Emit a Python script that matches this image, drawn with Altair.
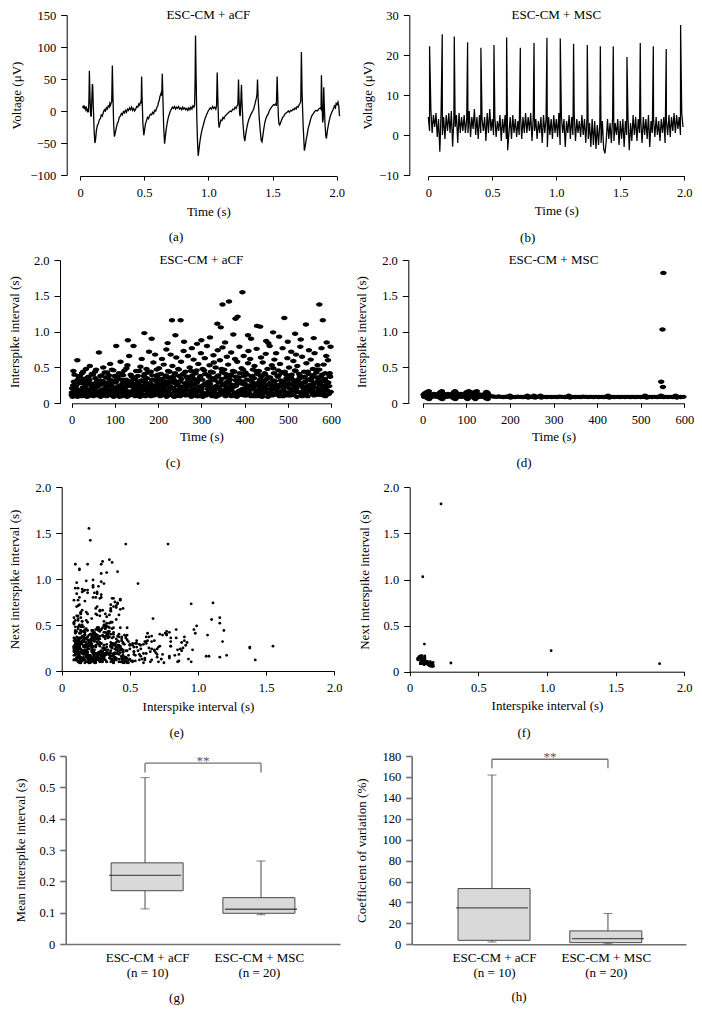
import altair as alt
import pandas as pd

W, H = 686, 1003
FONT = "Liberation Serif"
INK = "#000000"
GRAYAX = "#707070"
BOXFILL = "#d9d9d9"
BOXEDGE = "#4a4a4a"
ELLIPSE = "M-1,0A1,0.68,0,1,1,1,0A1,0.68,0,1,1,-1,0Z"
LABEL_SIZE = 12.5
TITLE_SIZE = 13

# ---------------- (a) ESC-CM + aCF voltage trace ----------------
a_time = [
    0.021, 0.026, 0.031, 0.036, 0.041, 0.046, 0.051, 0.057, 0.062, 0.066,
    0.070, 0.073, 0.078, 0.083, 0.087, 0.091, 0.096, 0.099, 0.104, 0.110,
    0.116, 0.121, 0.128, 0.136, 0.143, 0.150, 0.158, 0.166, 0.174, 0.182,
    0.190, 0.198, 0.205, 0.212, 0.220, 0.227, 0.233, 0.238, 0.243, 0.247,
    0.252, 0.256, 0.262, 0.268, 0.274, 0.282, 0.290, 0.298, 0.306, 0.314,
    0.322, 0.330, 0.338, 0.346, 0.354, 0.362, 0.370, 0.378, 0.386, 0.394,
    0.402, 0.410, 0.418, 0.426, 0.434, 0.442, 0.450, 0.458, 0.465, 0.472,
    0.477, 0.480, 0.484, 0.490, 0.497, 0.503, 0.510, 0.518, 0.526, 0.534,
    0.542, 0.550, 0.558, 0.566, 0.574, 0.582, 0.590, 0.598, 0.606, 0.612,
    0.617, 0.622, 0.627, 0.632, 0.637, 0.641, 0.646, 0.652, 0.659, 0.665,
    0.672, 0.680, 0.688, 0.696, 0.704, 0.712, 0.720, 0.728, 0.736, 0.744,
    0.752, 0.760, 0.768, 0.776, 0.784, 0.792, 0.800, 0.808, 0.816, 0.824,
    0.832, 0.840, 0.848, 0.856, 0.864, 0.872, 0.880, 0.888, 0.893, 0.897,
    0.900, 0.904, 0.910, 0.916, 0.921, 0.927, 0.934, 0.942, 0.950, 0.958,
    0.966, 0.974, 0.982, 0.990, 0.999, 1.008, 1.016, 1.025, 1.034, 1.042,
    1.051, 1.058, 1.064, 1.069, 1.074, 1.079, 1.084, 1.090, 1.098, 1.106,
    1.114, 1.122, 1.130, 1.141, 1.150, 1.160, 1.170, 1.180, 1.190, 1.200,
    1.208, 1.216, 1.224, 1.230, 1.235, 1.239, 1.244, 1.248, 1.253, 1.258,
    1.262, 1.270, 1.278, 1.284, 1.290, 1.298, 1.306, 1.314, 1.322, 1.330,
    1.338, 1.346, 1.354, 1.362, 1.368, 1.374, 1.379, 1.383, 1.388, 1.396,
    1.404, 1.412, 1.418, 1.425, 1.432, 1.440, 1.448, 1.456, 1.466, 1.474,
    1.482, 1.492, 1.500, 1.508, 1.516, 1.524, 1.530, 1.536, 1.541, 1.546,
    1.550, 1.556, 1.563, 1.571, 1.579, 1.588, 1.596, 1.605, 1.614, 1.623,
    1.632, 1.641, 1.650, 1.660, 1.668, 1.676, 1.684, 1.692, 1.700, 1.708,
    1.714, 1.720, 1.725, 1.730, 1.738, 1.744, 1.748, 1.755, 1.762, 1.769,
    1.777, 1.785, 1.793, 1.801, 1.810, 1.818, 1.828, 1.838, 1.848, 1.856,
    1.864, 1.872, 1.878, 1.881, 1.886, 1.891, 1.895, 1.899, 1.903, 1.910,
    1.916, 1.920, 1.928, 1.935, 1.942, 1.950, 1.958, 1.966, 1.974, 1.982,
    1.990, 1.996, 2.003, 2.010, 2.016, 2.022,
]
a_volt = [
    8, 4, 9, 3, 7, 2, 5, 0, 2, -2,
    20, 63, 20, -6, -9, 10, 42, 40, 5, -30,
    -50, -45, -30, -22, -20, -14, -12, -6, -8, -2,
    2, 0, 5, 3, 8, 6, 12, 9, 13, 14,
    71, 30, -20, -40, -35, -27, -20, -17, -10, -8,
    -4, -6, -1, -3, 1, -2, 3, 1, 5, 2,
    6, 1, 4, 0, 3, 7, 6, 11, 9, 14,
    12, 54, 20, -20, -38, -30, -20, -15, -10, -12,
    -7, -5, -6, -2, -4, 1, 0, 5, 8, 14,
    16, 22, 25, 28, 24, 58, 20, -25, -51, -40,
    -28, -18, -10, -5, 0, 3, 6, 4, 7, 3,
    6, 4, 7, 3, 5, 2, 6, 3, 5, 2,
    4, 1, 5, 2, 6, 3, 8, 6, 9, 50,
    118, 60, -10, -50, -70, -60, -48, -38, -30, -24,
    -18, -12, -8, -4, 0, 3, 5, 3, 7, 4,
    6, 3, 8, 60, 20, -15, -26, -20, -14, -15,
    -10, -12, -8, -6, -4, -2, 0, -1, 3, 2,
    6, 4, 8, 10, 49, 20, -5, -8, 15, 41,
    15, -20, -40, -47, -38, -28, -20, -14, -10, -6,
    -3, 0, 4, 10, 15, 20, 26, 49, 20, -10,
    -30, -46, -48, -38, -28, -18, -12, -8, -5, 0,
    3, 6, 8, 10, 9, 11, 8, 54, 20, -10,
    -20, -22, -18, -14, -10, -8, -5, -3, -2, 0,
    -2, 1, 0, 3, 2, 5, 3, 7, 6, 10,
    12, 15, 92, 30, -20, -45, -62, -55, -45, -38,
    -28, -22, -16, -10, -6, -4, -1, 1, 0, 2,
    4, 5, 3, 56, 10, -18, -12, 37, 10, -25,
    -40, -43, -30, -22, -15, -8, -4, 0, 3, 8,
    5, 12, 10, 14, 8, -8,
]

# ---------------- (b) ESC-CM + MSC voltage trace ----------------
b_dt = 0.01  # sampling step of the noise record (s)
b_noise = [
    4.5, 1.0, 6.5, 0.5, 5.0, 2.0, 5.5, -0.5, 4.0, -4.2,
    6.0, 0.0, 4.5, -1.0, 5.0, 1.0, 5.5, 0.5, 6.0, -2.9,
    4.5, 2.0, 5.0, -2.0, 5.5, 0.5, 4.5, 1.0, 5.0, 0.5,
    4.0, 0.5, 6.0, -0.5, 4.5, 1.5, 6.5, 0.0, 4.5, -1.0,
    5.0, 0.5, 4.0, 1.0, 4.5, -1.5, 5.5, 0.5, 6.5, 1.0,
    4.0, 0.0, 4.5, -0.5, 3.5, 1.0, 5.0, -1.5, 4.0, 0.5,
    5.0, -1.0, -3.8, 0.5, 4.5, -1.0, 5.0, 0.5, 4.0, -0.5,
    3.5, 0.0, 5.0, -1.0, 4.5, 0.5, 5.5, 0.5, 4.5, 1.0,
    5.5, -1.5, 4.5, 1.0, 4.0, -1.0, 3.5, 0.5, 4.5, -2.0,
    5.0, 0.5, 4.0, -3.0, 4.5, 0.0, 4.0, -1.0, 5.0, 0.5,
    4.0, -0.5, 5.5, -2.5, 4.5, 0.5, 4.0, -3.0, 3.5, 0.5,
    5.0, -1.0, 4.5, 0.0, 5.0, -1.5, 4.0, 0.5, 3.5, -0.5,
    5.0, 0.0, 4.0, -2.0, 4.5, -1.0, 3.0, -3.0, 4.0, -2.5,
    3.5, -3.5, 2.5, -2.5, 3.0, -2.0, 3.5, -3.5, -4.6, -1.5,
    4.0, -1.0, 3.0, -2.0, 4.5, -1.5, 3.0, 0.0, 4.0, -2.5,
    3.5, -1.0, 4.0, -3.0, 3.5, 0.0, 4.5, -3.8, 3.0, -1.5,
    5.0, 0.0, 4.5, -1.5, 4.0, 0.5, 3.5, -2.0, 4.5, 0.0,
    4.0, -1.0, 5.0, -3.0, 3.5, 0.5, 4.0, -0.5, 4.5, 0.0,
    3.5, -1.5, 4.0, 0.5, 4.5, -2.0, 3.5, 0.0, 5.0, -0.5,
    4.5, 1.0, 5.5, 0.5, 5.0, 1.5, 4.5, 0.0, 5.5, 2.0,
]
b_spike_time = [0.010, 0.109, 0.203, 0.307, 0.411, 0.513, 0.612, 0.719, 0.826, 0.927,
                1.031, 1.135, 1.242, 1.344, 1.445, 1.552, 1.656, 1.758, 1.859, 1.971]
b_spike_peak = [22.2, 25.2, 24.6, 23.2, 21.8, 22.5, 24.4, 21.8, 23.0, 24.3,
                24.1, 22.8, 22.5, 22.2, 22.2, 19.5, 23.0, 22.2, 21.5, 27.5]

# ---------------- (c)/(e) ESC-CM + aCF interspike intervals ----------------
aCF_time = [
    0, 1, 2, 4, 5, 6, 8, 9,
    10, 11, 13, 14, 15, 17, 18, 19,
    20, 22, 23, 24, 26, 27, 28, 29,
    31, 32, 33, 35, 36, 37, 38, 39,
    40, 41, 42, 44, 45, 46, 48, 49,
    50, 51, 53, 54, 55, 57, 58, 59,
    60, 62, 63, 64, 66, 67, 68, 69,
    71, 72, 73, 75, 76, 77, 78, 79,
    80, 81, 82, 84, 85, 86, 88, 89,
    90, 91, 93, 94, 95, 97, 98, 99,
    100, 102, 103, 104, 106, 107, 108, 109,
    111, 112, 113, 115, 116, 117, 118, 119,
    120, 121, 122, 124, 125, 126, 128, 129,
    130, 131, 133, 134, 135, 137, 138, 139,
    140, 142, 143, 144, 146, 147, 148, 149,
    151, 152, 153, 155, 156, 157, 158, 159,
    160, 161, 162, 164, 165, 166, 168, 169,
    170, 171, 173, 174, 175, 177, 178, 179,
    180, 182, 183, 184, 186, 187, 188, 189,
    191, 192, 193, 195, 196, 197, 198, 199,
    200, 201, 202, 204, 205, 206, 208, 209,
    210, 211, 213, 214, 215, 217, 218, 219,
    220, 222, 223, 224, 226, 227, 228, 229,
    231, 232, 233, 235, 236, 237, 238, 239,
    240, 241, 242, 244, 245, 246, 248, 249,
    250, 251, 253, 254, 255, 257, 258, 259,
    260, 262, 263, 264, 266, 267, 268, 269,
    271, 272, 273, 275, 276, 277, 278, 279,
    280, 281, 282, 284, 285, 286, 288, 289,
    290, 291, 293, 294, 295, 297, 298, 299,
    300, 302, 303, 304, 306, 307, 308, 309,
    311, 312, 313, 315, 316, 317, 318, 319,
    320, 321, 322, 324, 325, 326, 328, 329,
    330, 331, 333, 334, 335, 337, 338, 339,
    340, 342, 343, 344, 346, 347, 348, 349,
    351, 352, 353, 355, 356, 357, 358, 359,
    360, 361, 362, 364, 365, 366, 368, 369,
    370, 371, 373, 374, 375, 377, 378, 379,
    380, 382, 383, 384, 386, 387, 388, 389,
    391, 392, 393, 395, 396, 397, 398, 399,
    400, 401, 402, 404, 405, 406, 408, 409,
    410, 411, 413, 414, 415, 417, 418, 419,
    420, 422, 423, 424, 426, 427, 428, 429,
    431, 432, 433, 435, 436, 437, 438, 439,
    440, 441, 442, 444, 445, 446, 448, 449,
    450, 451, 453, 454, 455, 457, 458, 459,
    460, 462, 463, 464, 466, 467, 468, 469,
    471, 472, 473, 475, 476, 477, 478, 479,
    480, 481, 482, 484, 485, 486, 488, 489,
    490, 491, 493, 494, 495, 497, 498, 499,
    500, 502, 503, 504, 506, 507, 508, 509,
    511, 512, 513, 515, 516, 517, 518, 519,
    520, 521, 522, 524, 525, 526, 528, 529,
    530, 531, 533, 534, 535, 537, 538, 539,
    540, 542, 543, 544, 546, 547, 548, 549,
    551, 552, 553, 555, 556, 557, 558, 559,
    560, 561, 562, 564, 565, 566, 568, 569,
    570, 571, 573, 574, 575, 577, 578, 579,
    580, 582, 583, 584, 586, 587, 588, 589,
    591, 592, 593, 595, 596, 597, 598, 599,
]
aCF_isi = [
    0.12, 0.21, 0.09, 0.45, 0.30, 0.17, 0.26, 0.14,
    0.24, 0.11, 0.60, 0.33, 0.19, 0.13, 0.28, 0.38,
    0.16, 0.29, 0.10, 0.42, 0.22, 0.13, 0.34, 0.19,
    0.27, 0.12, 0.48, 0.20, 0.09, 0.31, 0.15, 0.37,
    0.18, 0.33, 0.52, 0.11, 0.25, 0.14, 0.22, 0.40,
    0.10, 0.27, 0.19, 0.44, 0.35, 0.13, 0.30, 0.16,
    0.23, 0.12, 0.71, 0.17, 0.32, 0.09, 0.26, 0.39,
    0.15, 0.31, 0.50, 0.20, 0.11, 0.27, 0.13, 0.36,
    0.28, 0.10, 0.43, 0.24, 0.16, 0.34, 0.12, 0.55,
    0.19, 0.26, 0.47, 0.13, 0.32, 0.09, 0.22, 0.38,
    0.12, 0.29, 0.80, 0.18, 0.35, 0.11, 0.24, 0.42,
    0.21, 0.14, 0.58, 0.33, 0.10, 0.27, 0.17, 0.39,
    0.30, 0.12, 0.46, 0.22, 0.15, 0.33, 0.09, 0.53,
    0.17, 0.28, 0.66, 0.11, 0.24, 0.14, 0.31, 0.37,
    0.13, 0.23, 0.80, 0.19, 0.34, 0.10, 0.27, 0.45,
    0.26, 0.16, 0.38, 0.12, 0.29, 0.20, 0.09, 0.51,
    0.14, 0.32, 0.62, 0.21, 0.11, 0.25, 0.18, 0.41,
    0.29, 0.10, 0.48, 0.35, 0.17, 0.23, 0.13, 0.72,
    0.20, 0.27, 0.44, 0.12, 0.33, 0.15, 0.22, 0.57,
    0.11, 0.25, 0.68, 0.18, 0.30, 0.14, 0.36, 0.40,
    0.23, 0.13, 0.49, 0.28, 0.10, 0.34, 0.19, 0.62,
    0.16, 0.31, 0.54, 0.22, 0.12, 0.26, 0.39, 0.75,
    0.27, 0.11, 0.45, 0.19, 0.14, 0.24, 0.36, 0.68,
    0.13, 0.29, 0.52, 0.21, 0.33, 0.09, 0.17, 0.42,
    0.31, 0.18, 0.64, 0.12, 0.26, 0.15, 0.47, 0.38,
    0.20, 0.10, 0.58, 0.34, 0.23, 0.13, 0.41, 0.73,
    0.15, 0.28, 0.44, 0.11, 0.19, 0.25, 0.36, 0.66,
    0.24, 0.13, 0.50, 0.30, 0.17, 0.09, 0.77, 0.39,
    0.12, 0.35, 0.61, 0.21, 0.27, 0.14, 0.32, 0.46,
    0.29, 0.18, 0.55, 0.10, 0.23, 0.16, 0.38, 0.70,
    0.19, 0.33, 0.48, 0.12, 0.26, 0.14, 0.63, 0.41,
    0.11, 0.25, 0.80, 0.20, 0.30, 0.15, 0.37, 0.53,
    0.27, 0.14, 0.44, 0.22, 0.10, 0.35, 0.67, 0.57,
    0.17, 0.32, 0.50, 0.09, 0.24, 0.13, 0.74, 0.39,
    0.22, 0.12, 0.60, 0.29, 0.16, 0.34, 0.43, 0.78,
    0.13, 0.27, 0.47, 0.19, 0.10, 0.25, 0.36, 0.65,
    0.30, 0.15, 0.54, 0.21, 0.12, 0.33, 0.40, 0.71,
    0.18, 0.26, 0.45, 0.11, 0.23, 0.14, 0.62, 0.37,
    0.24, 0.09, 0.58, 0.35, 0.17, 0.28, 0.79, 0.42,
    0.12, 0.31, 0.49, 0.20, 0.27, 0.15, 0.66, 0.38,
    0.28, 0.16, 0.43, 0.11, 0.33, 0.21, 0.56, 0.73,
    0.14, 0.25, 0.62, 0.19, 0.10, 0.30, 0.38, 0.47,
    0.22, 0.35, 0.52, 0.13, 0.27, 0.17, 0.76, 0.41,
    0.10, 0.29, 0.45, 0.20, 0.33, 0.14, 0.64, 0.37,
    0.25, 0.12, 0.57, 0.18, 0.31, 0.23, 0.40, 0.69,
    0.16, 0.34, 0.48, 0.09, 0.26, 0.13, 0.80, 0.36,
    0.29, 0.19, 0.53, 0.11, 0.23, 0.32, 0.42, 0.61,
    0.13, 0.26, 0.70, 0.21, 0.15, 0.37, 0.46, 0.39,
    0.23, 0.10, 0.55, 0.32, 0.17, 0.28, 0.77, 0.43,
    0.18, 0.30, 0.44, 0.12, 0.25, 0.35, 0.14, 0.63,
    0.26, 0.15, 0.50, 0.21, 0.11, 0.36, 0.72, 0.40,
    0.12, 0.33, 0.59, 0.24, 0.18, 0.29, 0.45, 0.68,
    0.21, 0.09, 0.52, 0.16, 0.27, 0.34, 0.38, 0.79,
    0.15, 0.28, 0.65, 0.12, 0.22, 0.19, 0.44, 0.37,
    0.30, 0.13, 0.56, 0.24, 0.10, 0.33, 0.41, 0.74,
    0.17, 0.26, 0.61, 0.35, 0.20, 0.14, 0.48, 0.39,
    0.23, 0.11, 0.70, 0.29, 0.16, 0.43, 0.36, 0.53,
    0.14, 0.32, 0.47, 0.19, 0.27, 0.12, 0.77, 0.40,
    0.25, 0.15, 0.54, 0.21, 0.34, 0.10, 0.30, 0.66,
    0.18, 0.28, 0.60, 0.13, 0.24, 0.42, 0.37, 0.79,
]
aCF_time2 = [
    0.5, 3.5, 6.5, 9.5, 10.5, 13.5, 16.5, 19.5, 20.5, 23.5, 26.5, 29.5,
    30.5, 33.5, 36.5, 39.5, 40.5, 43.5, 46.5, 49.5, 50.5, 53.5, 56.5, 59.5,
    60.5, 63.5, 66.5, 69.5, 70.5, 73.5, 76.5, 79.5, 80.5, 83.5, 86.5, 89.5,
    90.5, 93.5, 96.5, 99.5, 100.5, 103.5, 106.5, 109.5, 110.5, 113.5, 116.5, 119.5,
    120.5, 123.5, 126.5, 129.5, 130.5, 133.5, 136.5, 139.5, 140.5, 143.5, 146.5, 149.5,
    150.5, 153.5, 156.5, 159.5, 160.5, 163.5, 166.5, 169.5, 170.5, 173.5, 176.5, 179.5,
    180.5, 183.5, 186.5, 189.5, 190.5, 193.5, 196.5, 199.5, 200.5, 203.5, 206.5, 209.5,
    210.5, 213.5, 216.5, 219.5, 220.5, 223.5, 226.5, 229.5, 230.5, 233.5, 236.5, 239.5,
    240.5, 243.5, 246.5, 249.5, 250.5, 253.5, 256.5, 259.5, 260.5, 263.5, 266.5, 269.5,
    270.5, 273.5, 276.5, 279.5, 280.5, 283.5, 286.5, 289.5, 290.5, 293.5, 296.5, 299.5,
    300.5, 303.5, 306.5, 309.5, 310.5, 313.5, 316.5, 319.5, 320.5, 323.5, 326.5, 329.5,
    330.5, 333.5, 336.5, 339.5, 340.5, 343.5, 346.5, 349.5, 350.5, 353.5, 356.5, 359.5,
    360.5, 363.5, 366.5, 369.5, 370.5, 373.5, 376.5, 379.5, 380.5, 383.5, 386.5, 389.5,
    390.5, 393.5, 396.5, 399.5, 400.5, 403.5, 406.5, 409.5, 410.5, 413.5, 416.5, 419.5,
    420.5, 423.5, 426.5, 429.5, 430.5, 433.5, 436.5, 439.5, 440.5, 443.5, 446.5, 449.5,
    450.5, 453.5, 456.5, 459.5, 460.5, 463.5, 466.5, 469.5, 470.5, 473.5, 476.5, 479.5,
    480.5, 483.5, 486.5, 489.5, 490.5, 493.5, 496.5, 499.5, 500.5, 503.5, 506.5, 509.5,
    510.5, 513.5, 516.5, 519.5, 520.5, 523.5, 526.5, 529.5, 530.5, 533.5, 536.5, 539.5,
    540.5, 543.5, 546.5, 549.5, 550.5, 553.5, 556.5, 559.5, 560.5, 563.5, 566.5, 569.5,
    570.5, 573.5, 576.5, 579.5, 580.5, 583.5, 586.5, 589.5, 590.5, 593.5, 596.5, 599.5,
]
aCF_isi2 = [
    0.15, 0.25, 0.40, 0.11, 0.20, 0.09, 0.37, 0.29, 0.13, 0.31, 0.44, 0.18,
    0.23, 0.10, 0.36, 0.27, 0.16, 0.28, 0.41, 0.12, 0.21, 0.14, 0.47, 0.32,
    0.11, 0.26, 0.38, 0.19, 0.29, 0.13, 0.43, 0.22, 0.14, 0.20, 0.39, 0.30,
    0.25, 0.11, 0.46, 0.17, 0.18, 0.32, 0.37, 0.13, 0.09, 0.24, 0.42, 0.28,
    0.20, 0.15, 0.49, 0.26, 0.31, 0.12, 0.40, 0.16, 0.17, 0.27, 0.36, 0.21,
    0.13, 0.30, 0.45, 0.11, 0.24, 0.19, 0.38, 0.33, 0.12, 0.22, 0.43, 0.27,
    0.28, 0.10, 0.39, 0.18, 0.15, 0.33, 0.47, 0.23, 0.19, 0.12, 0.41, 0.30,
    0.26, 0.17, 0.36, 0.09, 0.14, 0.31, 0.44, 0.22, 0.21, 0.11, 0.38, 0.28,
    0.10, 0.25, 0.48, 0.19, 0.30, 0.16, 0.40, 0.13, 0.18, 0.23, 0.37, 0.32,
    0.12, 0.29, 0.45, 0.20, 0.26, 0.14, 0.42, 0.10, 0.17, 0.33, 0.36, 0.24,
    0.22, 0.09, 0.46, 0.28, 0.13, 0.27, 0.39, 0.18, 0.31, 0.16, 0.43, 0.12,
    0.20, 0.24, 0.37, 0.29, 0.11, 0.19, 0.48, 0.25, 0.27, 0.13, 0.41, 0.21,
    0.16, 0.30, 0.38, 0.10, 0.23, 0.12, 0.44, 0.32, 0.14, 0.28, 0.36, 0.18,
    0.29, 0.17, 0.47, 0.11, 0.19, 0.25, 0.40, 0.13, 0.12, 0.32, 0.37, 0.22,
    0.26, 0.10, 0.45, 0.16, 0.18, 0.23, 0.39, 0.30, 0.09, 0.29, 0.42, 0.20,
    0.24, 0.14, 0.36, 0.27, 0.15, 0.21, 0.49, 0.12, 0.31, 0.18, 0.38, 0.24,
    0.13, 0.26, 0.43, 0.10, 0.22, 0.16, 0.40, 0.33, 0.11, 0.28, 0.37, 0.19,
    0.27, 0.13, 0.46, 0.23, 0.17, 0.30, 0.41, 0.14, 0.25, 0.10, 0.36, 0.29,
    0.14, 0.22, 0.44, 0.18, 0.20, 0.32, 0.39, 0.12, 0.28, 0.15, 0.47, 0.21,
    0.12, 0.26, 0.37, 0.31, 0.19, 0.11, 0.42, 0.24, 0.23, 0.29, 0.38, 0.16,
]
aCF_high_time = [130, 168, 185, 222, 232, 240, 252, 260, 290, 300,
                 320, 337, 345, 349, 355, 364, 374, 379, 384, 395,
                 408, 415, 429, 436, 450, 455, 466, 480, 492, 500,
                 517, 530, 542, 560, 573, 581, 590]
aCF_high_isi = [0.88, 0.98, 0.90, 0.84, 1.16, 0.95, 1.16, 0.86, 0.83, 0.88,
                0.92, 1.11, 1.06, 1.38, 0.85, 1.42, 0.96, 1.18, 1.21, 1.55,
                0.95, 0.90, 1.08, 1.07, 0.87, 0.84, 0.99, 0.93, 1.19, 0.86,
                0.97, 0.89, 1.10, 0.91, 1.38, 1.16, 0.85]

# ---------------- (d)/(f) ESC-CM + MSC interspike intervals ----------------
MSC_time = [
    2, 3, 5, 6, 8, 9, 10, 11, 12, 13,
    14, 15, 16, 18, 20, 22, 24, 26, 28, 30,
    32, 34, 36, 38, 40, 41, 42, 43, 44, 45,
    46, 47, 48, 50, 52, 54, 56, 58, 60, 62,
    64, 66, 68, 70, 71, 72, 73, 74, 75, 76,
    77, 78, 80, 82, 84, 86, 88, 90, 92, 94,
    96, 98, 100, 101, 102, 103, 104, 105, 106, 107,
    108, 110, 112, 114, 116, 118, 119, 120, 121, 122,
    123, 124, 125, 126, 128, 130, 132, 134, 136, 138,
    140, 142, 144, 145, 146, 147, 148, 149, 150, 152,
    156, 162, 168, 174, 180, 186, 192, 198, 200, 202,
    206, 212, 218, 224, 230, 236, 240, 242, 246, 252,
    255, 258, 262, 268, 270, 272, 278, 284, 290, 296,
    302, 308, 314, 320, 326, 332, 335, 338, 344, 350,
    356, 362, 368, 374, 380, 386, 392, 398, 404, 410,
    416, 422, 425, 428, 434, 440, 446, 452, 458, 464,
    470, 476, 482, 488, 494, 500, 506, 510, 514, 520,
    526, 532, 538, 544, 546, 547, 548, 549, 550, 551,
    552, 553, 556, 562, 568, 574, 580, 583, 586, 592,
    598,
]
MSC_isi = [
    0.12, 0.09, 0.14, 0.10, 0.13, 0.08, 0.16, 0.07, 0.15, 0.11,
    0.17, 0.06, 0.13, 0.10, 0.12, 0.09, 0.11, 0.13, 0.10, 0.12,
    0.09, 0.11, 0.13, 0.10, 0.15, 0.07, 0.16, 0.09, 0.17, 0.06,
    0.14, 0.08, 0.12, 0.11, 0.10, 0.12, 0.09, 0.13, 0.11, 0.10,
    0.12, 0.09, 0.11, 0.14, 0.07, 0.16, 0.08, 0.17, 0.06, 0.15,
    0.10, 0.13, 0.11, 0.09, 0.12, 0.10, 0.13, 0.09, 0.11, 0.12,
    0.10, 0.11, 0.15, 0.07, 0.16, 0.06, 0.14, 0.09, 0.17, 0.08,
    0.12, 0.10, 0.13, 0.09, 0.11, 0.15, 0.07, 0.16, 0.06, 0.14,
    0.08, 0.17, 0.10, 0.13, 0.11, 0.09, 0.12, 0.10, 0.11, 0.09,
    0.12, 0.10, 0.14, 0.07, 0.16, 0.08, 0.15, 0.06, 0.13, 0.10,
    0.10, 0.095, 0.09, 0.095, 0.09, 0.088, 0.092, 0.09, 0.105, 0.08,
    0.09, 0.088, 0.092, 0.09, 0.087, 0.09, 0.105, 0.08, 0.09, 0.088,
    0.105, 0.08, 0.09, 0.092, 0.105, 0.08, 0.09, 0.088, 0.09, 0.087,
    0.09, 0.088, 0.092, 0.09, 0.088, 0.09, 0.105, 0.08, 0.09, 0.087,
    0.09, 0.088, 0.092, 0.09, 0.087, 0.09, 0.088, 0.09, 0.087, 0.09,
    0.088, 0.09, 0.105, 0.08, 0.09, 0.088, 0.09, 0.087, 0.09, 0.088,
    0.09, 0.087, 0.09, 0.088, 0.09, 0.087, 0.09, 0.105, 0.08, 0.09,
    0.088, 0.09, 0.087, 0.09, 0.107, 0.30, 0.094, 0.095, 1.03, 0.228,
    1.82, 0.087, 0.09, 0.088, 0.09, 0.087, 0.105, 0.08, 0.09, 0.088,
    0.09,
]

# ---------------- (g)/(h) box plot summaries ----------------
box_groups = ["ESC-CM + aCF", "ESC-CM + MSC"]
box_n = [10, 20]
box_pos = [1, 2]
g_min = [0.112, 0.093]
g_q1 = [0.170, 0.098]
g_med = [0.219, 0.111]
g_q3 = [0.259, 0.148]
g_max = [0.531, 0.265]
g_bracket = [0.547, 0.577]
h_min = [2.2, 0.6]
h_q1 = [3.8, 1.6]
h_med = [34.8, 5.4]
h_q3 = [53.3, 12.8]
h_max = [161.8, 29.4]
h_bracket = [168.2, 176.9]


# ======================= helpers =======================
def lin(domain, rng):
    return alt.Scale(domain=domain, range=rng, nice=False, zero=False)


def dec_expr(d):
    return f"datum.value == 0 ? '0' : format(datum.value, '.{d}f')"


def y_axis(at, values, title, gap, dec=None, color=INK, width=1.0):
    kw = dict(orient="left", offset=-at, values=values, title=title, grid=False,
              tickSize=6, labelPadding=5, minExtent=30, maxExtent=30,
              titlePadding=gap - 30, domainColor=color, tickColor=color,
              domainWidth=width, tickWidth=width, labelFlush=False,
              labelOverlap=False)
    if dec is not None:
        kw["labelExpr"] = dec_expr(dec)
    return alt.Axis(**kw)


def x_axis(at, values, title, gap, dec=None):
    kw = dict(orient="bottom", offset=at - H, values=values, title=title, grid=False,
              tickSize=4, labelPadding=6, minExtent=20, maxExtent=20,
              titlePadding=gap - 20, domainColor=INK, tickColor=INK,
              labelFlush=False, labelOverlap=False)
    if dec is not None:
        kw["labelExpr"] = dec_expr(dec)
    return alt.Axis(**kw)


def caption(text, px, py):
    return alt.Chart(pd.DataFrame({"c": [text]})).mark_text(
        font=FONT, fontSize=TITLE_SIZE, align="center", baseline="middle", color=INK
    ).encode(text="c:N", x=alt.value(px), y=alt.value(py))


def panel_title(text, xs, ys, xdom, ydom):
    df = pd.DataFrame({"x": [(xdom[0] + xdom[1]) / 2], "y": [ydom[1]], "label": [text]})
    return alt.Chart(df).mark_text(
        font=FONT, fontSize=TITLE_SIZE, baseline="middle", align="center", color=INK
    ).encode(x=alt.X("x:Q", scale=xs, axis=None),
             y=alt.Y("y:Q", scale=ys, axis=None), text="label:N")


layers = []

# ---------------- panel (a) ----------------
xa_dom, ya_dom = [0, 2], [-100, 150]
xa, ya = lin(xa_dom, [72, 328.7]), lin(ya_dom, [167, 7])
df_a = pd.DataFrame({"t": a_time, "v": a_volt})
layers += [
    alt.Chart(df_a).mark_line(color=INK, strokeWidth=1.3).encode(
        x=alt.X("t:Q", scale=xa, axis=x_axis(168, [0, 0.5, 1, 1.5, 2], "Time (s)", 29.5, 1)),
        y=alt.Y("v:Q", scale=ya, axis=y_axis(58.7, [-100, -50, 0, 50, 100, 150], "Voltage (μV)", 43)),
    ),
    panel_title("ESC-CM + aCF", xa, ya, xa_dom, ya_dom),
    caption("(a)", 168, 229),
]

# ---------------- panel (b) ----------------
xb_dom, yb_dom = [0, 2], [-10, 30]
xb, yb = lin(xb_dom, [420.3, 676.3]), lin(yb_dom, [167, 7])
b_t = [round(i * b_dt, 3) for i in range(len(b_noise))] + b_spike_time
b_v = b_noise + b_spike_peak
df_b = pd.DataFrame({"t": b_t, "v": b_v}).sort_values("t", kind="stable")
layers += [
    alt.Chart(df_b).mark_line(color=INK, strokeWidth=1.25).encode(
        x=alt.X("t:Q", scale=xb, axis=x_axis(168, [0, 0.5, 1, 1.5, 2], "Time (s)", 28.5, 1)),
        y=alt.Y("v:Q", scale=yb, axis=y_axis(401.3, [-10, 0, 10, 20, 30], "Voltage (μV)", 35)),
    ),
    panel_title("ESC-CM + MSC", xb, yb, xb_dom, yb_dom),
    caption("(b)", 519.7, 230),
]

# ---------------- panel (c) ----------------
aCF = pd.DataFrame({"t": aCF_time + aCF_time2 + aCF_high_time,
                    "isi": aCF_isi + aCF_isi2 + aCF_high_isi})
aCF = aCF.sort_values("t", kind="stable").reset_index(drop=True)
xc_dom, yc_dom = [0, 600], [0, 2]
xc, yc = lin(xc_dom, [63.7, 323]), lin(yc_dom, [395.3, 252])
layers += [
    alt.Chart(aCF).mark_point(filled=True, shape=ELLIPSE, size=42, color=INK, opacity=1).encode(
        x=alt.X("t:Q", scale=xc, axis=x_axis(395.3, [0, 100, 200, 300, 400, 500, 600], "Time (s)", 27.5)),
        y=alt.Y("isi:Q", scale=yc, axis=y_axis(52, [0, 0.5, 1, 1.5, 2], "Interspike interval (s)", 39, 1)),
    ),
    panel_title("ESC-CM + aCF", xc, yc, xc_dom, yc_dom),
    caption("(c)", 165, 455),
]

# ---------------- panel (d) ----------------
MSC = pd.DataFrame({"t": MSC_time, "isi": MSC_isi}).sort_values("t", kind="stable").reset_index(drop=True)
xd_dom, yd_dom = [0, 600], [0, 2]
xd, yd = lin(xd_dom, [414.7, 676.3]), lin(yd_dom, [395.3, 252])
layers += [
    alt.Chart(MSC).mark_point(filled=True, shape=ELLIPSE, size=42, color=INK, opacity=1).encode(
        x=alt.X("t:Q", scale=xd, axis=x_axis(395.3, [0, 100, 200, 300, 400, 500, 600], "Time (s)", 27.5)),
        y=alt.Y("isi:Q", scale=yd, axis=y_axis(400.3, [0, 0.5, 1, 1.5, 2], "Interspike interval (s)", 40, 1)),
    ),
    panel_title("ESC-CM + MSC", xd, yd, xd_dom, yd_dom),
    caption("(d)", 516, 455),
]

# ---------------- panel (e): return map of (c) ----------------
e_pairs = pd.DataFrame({"x": aCF["isi"].values[:-1], "y": aCF["isi"].values[1:]})
xe, ye = lin([0, 2], [53.7, 326.3]), lin([0, 2], [663, 479])
layers += [
    alt.Chart(e_pairs).mark_circle(size=8, color=INK, opacity=1).encode(
        x=alt.X("x:Q", scale=xe, axis=x_axis(663, [0, 0.5, 1, 1.5, 2], "Interspike interval (s)", 29, 1)),
        y=alt.Y("y:Q", scale=ye, axis=y_axis(53.7, [0, 0.5, 1, 1.5, 2], "Next interspike interval (s)", 40, 1)),
    ),
    caption("(e)", 168.7, 725),
]

# ---------------- panel (f): return map of (d) ----------------
f_pairs = pd.DataFrame({"x": MSC["isi"].values[:-1], "y": MSC["isi"].values[1:]})
xf, yf = lin([0, 2], [401.7, 676.3]), lin([0, 2], [663.7, 479.3])
layers += [
    alt.Chart(f_pairs).mark_circle(size=8, color=INK, opacity=1).encode(
        x=alt.X("x:Q", scale=xf, axis=x_axis(663.7, [0, 0.5, 1, 1.5, 2], "Interspike interval (s)", 28, 1)),
        y=alt.Y("y:Q", scale=yf, axis=y_axis(401.7, [0, 0.5, 1, 1.5, 2], "Next interspike interval (s)", 38, 1)),
    ),
    caption("(f)", 516, 725),
]

# ---------------- box panels (g)/(h) ----------------
cat_expr = (f"datum.value == {box_pos[0]} ? ['{box_groups[0]}', '(n = {box_n[0]})'] : "
            f"['{box_groups[1]}', '(n = {box_n[1]})']")


def box_layers(mins, q1s, meds, q3s, maxs, bracket, xs, ys, xat, yat, yvals, ytitle, ygap, dec):
    df = pd.DataFrame({"pos": box_pos, "min": mins, "q1": q1s, "med": meds, "q3": q3s, "max": maxs})
    xax = alt.Axis(orient="bottom", offset=xat - H, values=box_pos, labelExpr=cat_expr,
                   ticks=False, tickSize=0, labelPadding=7.5, labelLineHeight=15,
                   labelFontSize=TITLE_SIZE,
                   domainColor=GRAYAX, domainWidth=1.6, title=None, grid=False,
                   labelFlush=False, labelOverlap=False)
    yax = y_axis(yat, yvals, ytitle, ygap, dec, color=GRAYAX, width=1.6)
    whisk = alt.Chart(df).mark_rule(color=BOXEDGE, strokeWidth=1).encode(
        x=alt.X("pos:Q", scale=xs, axis=None), y=alt.Y("min:Q", scale=ys, axis=None), y2="max:Q")
    cap_hi = alt.Chart(df).mark_tick(orient="horizontal", size=9, thickness=1, color=BOXEDGE).encode(
        x=alt.X("pos:Q", scale=xs, axis=None), y=alt.Y("max:Q", scale=ys, axis=None))
    cap_lo = alt.Chart(df).mark_tick(orient="horizontal", size=9, thickness=1, color=BOXEDGE).encode(
        x=alt.X("pos:Q", scale=xs, axis=None), y=alt.Y("min:Q", scale=ys, axis=None))
    box = alt.Chart(df).mark_bar(size=72, orient="vertical", fill=BOXFILL, stroke=BOXEDGE,
                                 strokeWidth=1).encode(
        x=alt.X("pos:Q", scale=xs, axis=xax), y=alt.Y("q1:Q", scale=ys, axis=yax), y2="q3:Q")
    med = alt.Chart(df).mark_tick(orient="horizontal", size=72, thickness=1.4, color="#1a1a1a").encode(
        x=alt.X("pos:Q", scale=xs, axis=None), y=alt.Y("med:Q", scale=ys, axis=None))
    lo, hi = bracket
    br = pd.DataFrame({
        "x1": [box_pos[0], box_pos[0], box_pos[1]],
        "x2": [box_pos[1], box_pos[0], box_pos[1]],
        "y1": [hi, lo, lo],
        "y2": [hi, hi, hi],
    })
    brk = alt.Chart(br).mark_rule(color=GRAYAX, strokeWidth=1.3).encode(
        x=alt.X("x1:Q", scale=xs, axis=None), x2="x2:Q",
        y=alt.Y("y1:Q", scale=ys, axis=None), y2="y2:Q")
    star = alt.Chart(pd.DataFrame({"x": [sum(box_pos) / 2], "y": [hi], "s": ["**"]})).mark_text(
        font=FONT, fontSize=13, color="#555555", baseline="alphabetic", align="center", dy=2
    ).encode(x=alt.X("x:Q", scale=xs, axis=None), y=alt.Y("y:Q", scale=ys, axis=None), text="s:N")
    return [whisk, cap_hi, cap_lo, box, med, brk, star]


xg, yg = lin([0.316, 2.681], [57.7, 332]), lin([0, 0.6], [936, 748])
layers += box_layers(g_min, g_q1, g_med, g_q3, g_max, g_bracket, xg, yg, 936, 57.7,
                     [0, 0.1, 0.2, 0.3, 0.4, 0.5, 0.6], "Mean interspike interval (s)", 38, 1)
layers.append(caption("(g)", 168.7, 990))

xh, yh = lin([0.308, 2.673], [403.7, 678]), lin([0, 180], [936.3, 748])
layers += box_layers(h_min, h_q1, h_med, h_q3, h_max, h_bracket, xh, yh, 936.3, 403.7,
                     [0, 20, 40, 60, 80, 100, 120, 140, 160, 180], "Coefficient of variation (%)", 43, None)
layers.append(caption("(h)", 511, 989))

chart = alt.layer(*layers).resolve_scale(x="independent", y="independent").properties(
    width=W, height=H, padding=0, autosize=alt.AutoSizeParams(type="none")
).configure(font=FONT).configure_view(stroke=None).configure_axis(
    labelFont=FONT, titleFont=FONT, labelFontSize=LABEL_SIZE, titleFontSize=TITLE_SIZE,
    titleFontWeight="normal", labelColor=INK, titleColor=INK
)

chart.save("out.html", embed_options={"renderer": "svg", "actions": False})
